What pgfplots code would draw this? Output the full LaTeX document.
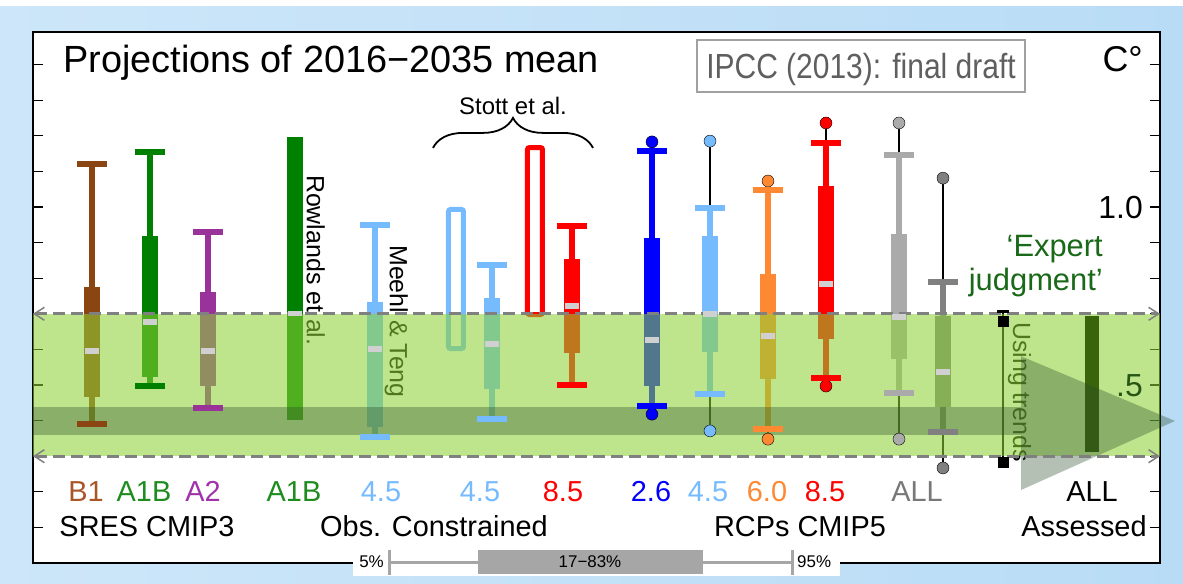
\documentclass[border=0pt]{standalone}
\usepackage{pgfplots}
\pgfplotsset{compat=1.18}
\usepackage{graphicx}
\usepackage{fontspec}
\setmainfont{Liberation Sans}
\usetikzlibrary{arrows.meta,decorations.pathreplacing}

\definecolor{cBrown}{RGB}{139,69,19}
\definecolor{cGreen}{RGB}{0,128,0}
\definecolor{cPurple}{RGB}{153,51,153}
\definecolor{cLBlue}{RGB}{119,187,255}
\definecolor{cRed}{RGB}{255,0,0}
\definecolor{cBlue}{RGB}{0,0,255}
\definecolor{cOrange}{RGB}{255,136,51}
\definecolor{cLGray}{RGB}{170,170,170}
\definecolor{cDGray}{RGB}{128,128,128}
\definecolor{cMed}{RGB}{208,208,208}
\definecolor{cBand}{RGB}{141,211,53}
\definecolor{cArrow}{RGB}{40,76,40}
\definecolor{cExpert}{RGB}{25,105,25}
\definecolor{cAssess}{RGB}{58,100,12}
\definecolor{cDkG}{RGB}{40,85,20}
\definecolor{cBGl}{RGB}{205,230,249}
\definecolor{cBGr}{RGB}{185,220,246}
\definecolor{cBox}{RGB}{160,160,160}
\definecolor{cIPCC}{RGB}{95,95,95}
\definecolor{cLab1}{RGB}{170,85,40}
\definecolor{cLabG}{RGB}{30,140,30}
\definecolor{cLabP}{RGB}{160,50,170}
\definecolor{cLabAll}{RGB}{120,120,120}
\definecolor{cLeg}{RGB}{166,166,166}

\newcommand{\fs}[1]{\fontsize{#1}{#1}\selectfont}
% box-whisker: x, colour, lower cap, box low, median, box high, upper cap
\newcommand{\bwhisk}[7]{%
  \addplot[draw=#2, line width=5.5bp] coordinates {(#1,#3) (#1,#7)};
  \addplot[draw=#2, line width=16bp] coordinates {(#1,#4) (#1,#6)};
  \addplot[only marks, mark=-, mark size=15bp, mark options={draw=#2, line width=6bp}] coordinates {(#1,#3) (#1,#7)};
  \addplot[only marks, mark=-, mark size=7bp, mark options={draw=cMed, line width=6bp}] coordinates {(#1,#5)};
}
% outlier dot linked to a cap: x, colour, dot, cap
\newcommand{\dotlink}[4]{%
  \addplot[black, line width=1.3bp] coordinates {(#1,#3) (#1,#4)};
  \addplot[only marks, mark=*, mark size=6bp, mark options={fill=#2, draw=none}] coordinates {(#1,#3)};
}

\begin{document}
\begin{tikzpicture}
\shade[left color=cBGl, right color=cBGr] (-33bp,-21bp) rectangle (1150bp,563bp);
\fill[white] (-33bp,557bp) rectangle (1150bp,563bp);
\begin{axis}[
  scale only axis, width=1127bp, height=531bp,
  xmin=33, xmax=1160, ymin=0, ymax=1.4916,
  clip=false,
  axis background/.style={fill=white},
  xtick=\empty,
  ytick={0.1,0.2,0.3,0.4,0.5,0.6,0.7,0.8,0.9,1.0,1.1,1.2,1.3,1.4},
  yticklabel style={opacity=0},
  major tick length=10bp,
  tick style={black, line width=1.2bp},
  axis line style={black, line width=1.5bp},
]
% SRES CMIP3
\bwhisk{92}{cBrown}{0.390}{0.466}{0.595}{0.775}{1.121}
\bwhisk{150}{cGreen}{0.497}{0.522}{0.677}{0.918}{1.154}
\bwhisk{208}{cPurple}{0.435}{0.497}{0.595}{0.761}{0.930}
% Rowlands et al.
\addplot[draw=cGreen, line width=16bp] coordinates {(295,0.402) (295,1.197)};
\addplot[only marks, mark=-, mark size=7bp, mark options={draw=cMed, line width=5bp}] coordinates {(295,0.700)};
% Meehl & Teng
\bwhisk{375}{cLBlue}{0.354}{0.382}{0.601}{0.733}{0.949}
% Stott et al.
\addplot[draw=cLBlue, line width=5bp, rounded corners=2bp] coordinates {(448.5,0.8) (448.5,0.993) (463.5,0.993) (463.5,0.6025) (448.5,0.6025) (448.5,0.8)};
\bwhisk{492}{cLBlue}{0.404}{0.489}{0.615}{0.744}{0.837}
\addplot[draw=cRed, line width=5bp, rounded corners=2bp] coordinates {(527.5,0.9) (527.5,1.167) (542.5,1.167) (542.5,0.698) (527.5,0.698) (527.5,0.9)};
\bwhisk{572}{cRed}{0.500}{0.590}{0.722}{0.854}{0.947}
% RCPs CMIP5
\dotlink{652}{cBlue}{0.418}{0.441}
\dotlink{652}{cBlue}{1.183}{1.157}
\bwhisk{652}{cBlue}{0.441}{0.497}{0.626}{0.913}{1.157}
\dotlink{710}{cLBlue}{0.371}{0.475}
\dotlink{710}{cLBlue}{1.185}{0.997}
\bwhisk{710}{cLBlue}{0.475}{0.593}{0.700}{0.919}{0.997}
\dotlink{768}{cOrange}{0.348}{0.376}
\dotlink{768}{cOrange}{1.073}{1.048}
\bwhisk{768}{cOrange}{0.376}{0.517}{0.638}{0.812}{1.048}
\dotlink{826}{cRed}{0.497}{0.520}
\dotlink{826}{cRed}{1.236}{1.180}
\bwhisk{826}{cRed}{0.520}{0.629}{0.784}{1.060}{1.180}
\dotlink{899}{cLGray}{0.348}{0.478}
\dotlink{899}{cLGray}{1.236}{1.146}
\bwhisk{899}{cLGray}{0.478}{0.573}{0.690}{0.924}{1.146}
\dotlink{943}{cDGray}{0.267}{0.368}
\dotlink{943}{cDGray}{1.081}{0.790}
\bwhisk{943}{cDGray}{0.368}{0.438}{0.537}{0.694}{0.790}
% Using trends
\addplot[black, line width=1.3bp] coordinates {(1003,0.287) (1003,0.706)};
\addplot[only marks, mark=-, mark size=6bp, mark options={draw=black, line width=3bp}] coordinates {(1003,0.706)};
\addplot[only marks, mark=square*, mark size=5bp, mark options={fill=black, draw=none}] coordinates {(1003,0.680) (1003,0.284)};
% rotated labels (under the band)
\node[rotate=-90, anchor=base west, inner sep=0, font=\fs{25}] at (axis cs:307,1.090) {Rowlands et al.};
\node[rotate=-90, anchor=base west, inner sep=0, font=\fs{25}] at (axis cs:390,0.893) {Meehl \& Teng};
\node[rotate=-90, anchor=base west, inner sep=0, font=\fs{25}] at (axis cs:1013,0.677) {Using trends};
% Stott brace
\draw[black, line width=1.8bp, decorate, decoration={brace, amplitude=30bp}] (axis cs:433,1.166) -- (axis cs:593,1.166);
% likely range band
\addplot[fill=cBand, fill opacity=0.57, draw=none] coordinates {(33,0.3) (1160,0.3) (1160,0.7) (33,0.7)};
% all assessed
\addplot[draw=cAssess, line width=14bp] coordinates {(1092,0.312) (1092,0.694)};
% big arrow
\addplot[fill=cArrow, fill opacity=0.35, draw=none] coordinates {(33,0.438) (1021,0.438) (1021,0.581) (1175,0.399) (1021,0.205) (1021,0.360) (33,0.360)};
% dashed band edges
\draw[cDGray, line width=3bp, dash pattern=on 12bp off 6bp, {Straight Barb[length=10bp,width=13bp,line width=1.5bp]}-{Straight Barb[length=10bp,width=13bp,line width=1.5bp]}] (axis cs:33,0.7) -- (axis cs:1160,0.7);
\draw[cDGray, line width=3bp, dash pattern=on 12bp off 6bp, {Straight Barb[length=10bp,width=13bp,line width=1.5bp]}-{Straight Barb[length=10bp,width=13bp,line width=1.5bp]}] (axis cs:33,0.3) -- (axis cs:1160,0.3);
\end{axis}
\begin{scope}[x=1bp, y=-1bp, shift={(-33bp,563bp)}]
\node[anchor=base west, inner sep=0, font=\fs{38}] at (63,73) {Projections of 2016−2035 mean};
\draw[cBox, line width=1.2bp] (697,40) rectangle (1025,92);
\node[anchor=base, inner sep=0, text=cIPCC, font=\fs{35}] at (861,79) {\scalebox{0.86}[1]{IPCC (2013): final draft}};
\node[anchor=base east, inner sep=0, font=\fs{36}] at (1143,72) {C°};
\node[anchor=base east, inner sep=0, font=\fs{32}] at (1143,219) {1.0};
\node[anchor=base east, inner sep=0, font=\fs{32}, text=cDkG] at (1143,397) {.5};
\node[anchor=base east, inner sep=0, font=\fs{31}, text=cExpert] at (1103,257) {‘Expert};
\node[anchor=base east, inner sep=0, font=\fs{31}, text=cExpert] at (1103,291) {judgment’};
\node[anchor=base, inner sep=0, font=\fs{24}] at (513,115) {Stott et al.};
% category labels
\node[anchor=base, inner sep=0, font=\fs{29}, text=cLab1] at (86,502) {B1};
\node[anchor=base, inner sep=0, font=\fs{29}, text=cLabG] at (144,502) {A1B};
\node[anchor=base, inner sep=0, font=\fs{29}, text=cLabP] at (203,502) {A2};
\node[anchor=base, inner sep=0, font=\fs{29}, text=cLabG] at (294,502) {A1B};
\node[anchor=base, inner sep=0, font=\fs{29}, text=cLBlue] at (381,502) {4.5};
\node[anchor=base, inner sep=0, font=\fs{29}, text=cLBlue] at (480,502) {4.5};
\node[anchor=base, inner sep=0, font=\fs{29}, text=cRed] at (563,502) {8.5};
\node[anchor=base, inner sep=0, font=\fs{29}, text=cBlue] at (651,502) {2.6};
\node[anchor=base, inner sep=0, font=\fs{29}, text=cLBlue] at (708,502) {4.5};
\node[anchor=base, inner sep=0, font=\fs{29}, text=cOrange] at (767,502) {6.0};
\node[anchor=base, inner sep=0, font=\fs{29}, text=cRed] at (825,502) {8.5};
\node[anchor=base, inner sep=0, font=\fs{29}, text=cLabAll] at (917,502) {ALL};
\node[anchor=base, inner sep=0, font=\fs{29}] at (1092,502) {ALL};
\node[anchor=base, inner sep=0, font=\fs{29}] at (147,537) {SRES CMIP3};
\node[anchor=base, inner sep=0, font=\fs{29}] at (434,537) {Obs. Constrained};
\node[anchor=base, inner sep=0, font=\fs{29}] at (800,537) {RCPs CMIP5};
\node[anchor=base, inner sep=0, font=\fs{29}] at (1084,537) {Assessed};
% percentile key
\fill[white] (353,549) rectangle (840,576);
\draw[cLeg, line width=3bp] (389,563) -- (792,563);
\draw[cLeg, line width=3bp] (389,550) -- (389,575);
\draw[cLeg, line width=3bp] (792,550) -- (792,575);
\fill[cLeg] (478,550) rectangle (703,574);
\node[anchor=base, inner sep=0, font=\fs{17}] at (590,568) {17−83\%};
\node[anchor=base east, inner sep=0, font=\fs{17}] at (384,568) {5\%};
\node[anchor=base west, inner sep=0, font=\fs{17}] at (797,568) {95\%};
\end{scope}
\pgfresetboundingbox
\path[use as bounding box] (-33bp,-21bp) rectangle (1150bp,563bp);
\end{tikzpicture}
\end{document}
